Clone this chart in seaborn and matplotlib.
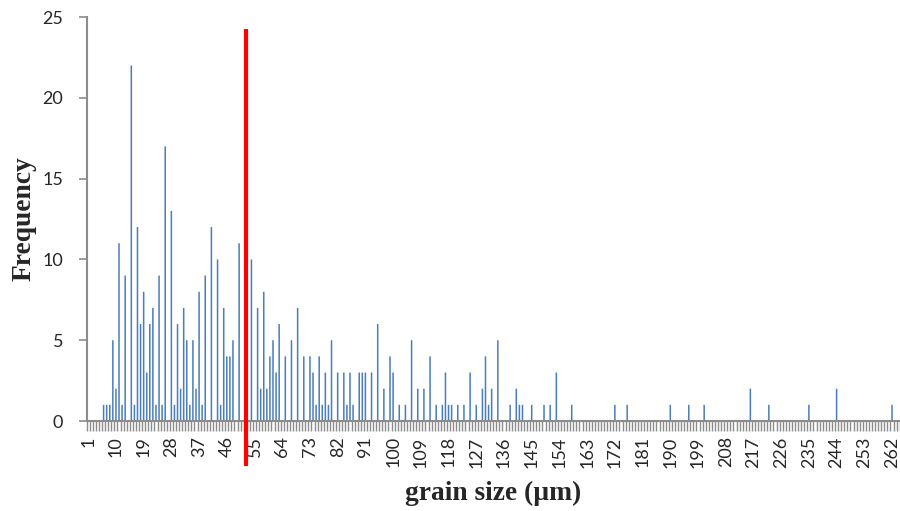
import numpy as np
import pandas as pd
import matplotlib
matplotlib.use('Agg')
import matplotlib.pyplot as plt
import seaborn as sns

# grain size classes (µm) that hold at least one grain
grain_size = [6, 7, 8, 9, 10, 11, 12, 13, 15, 16, 17, 18, 19, 20, 21, 22, 23, 24, 25, 26, 28,
              29, 30, 31, 32, 33, 34, 35, 36, 37, 38, 39, 41, 43, 44, 45, 46, 47, 48, 50, 54,
              56, 57, 58, 59, 60, 61, 62, 63, 65, 67, 69, 71, 73, 74, 75, 76, 77, 78, 79, 80,
              82, 84, 85, 86, 87, 89, 90, 91, 93, 95, 97, 99, 100, 102, 104, 106, 108, 110,
              112, 114, 116, 117, 118, 119, 121, 123, 125, 127, 129, 130, 131, 132, 134, 138,
              140, 141, 142, 145, 149, 151, 153, 158, 172, 176, 190, 196, 201, 216, 222, 235,
              244, 262]
frequency = [1, 1, 1, 5, 2, 11, 1, 9, 22, 1, 12, 6, 8, 3, 6, 7, 1, 9, 1, 17, 13,
             1, 6, 2, 7, 5, 1, 5, 2, 8, 1, 9, 12, 10, 1, 7, 4, 4, 5, 11, 10,
             7, 2, 8, 2, 4, 5, 3, 6, 4, 5, 7, 4, 4, 3, 1, 4, 1, 3, 1, 5,
             3, 3, 1, 3, 1, 3, 3, 3, 3, 6, 2, 4, 3, 1, 1, 5, 2, 2,
             4, 1, 1, 3, 1, 1, 1, 1, 3, 1, 2, 4, 1, 2, 5, 1,
             2, 1, 1, 1, 1, 1, 3, 1, 1, 1, 1, 1, 1, 2, 1, 1,
             2, 1]
n_classes = 264          # classes 1..264 on the category axis
mean_size = 52.2         # red marker line
label_every = 9

df = pd.DataFrame({'size': grain_size, 'freq': frequency})
full = (df.set_index('size')
          .reindex(range(1, n_classes + 1), fill_value=0)
          .rename_axis('size').reset_index())

sns.set_style('white')
plt.rcParams['font.family'] = ['Lato', 'DejaVu Sans']

fig = plt.figure(figsize=(9, 5.11), dpi=100)
ax = fig.add_axes([0.0963, 0.1761, 0.9034, 0.7906])

sns.barplot(data=full, x='size', y='freq', color='#4a7ebb', saturation=1,
            width=0.5, linewidth=0, errorbar=None, ax=ax)
# thin bars: no pixel snapping so they all come out the same width
for p in ax.patches:
    p.set_snap(False)

ax.set_xlim(-0.5, n_classes - 0.5)
ax.set_ylim(0, 25)
ax.set_yticks(range(0, 26, 5))

tick_vals = list(range(1, n_classes, label_every))
ax.set_xticks([v - 1 for v in tick_vals])
ax.set_xticklabels([str(v) for v in tick_vals], rotation=90)
ax.set_xticks(np.arange(-0.5, n_classes, 1), minor=True)

ax.tick_params(axis='x', which='major', length=0, pad=11, labelsize=13)
ax.tick_params(axis='x', which='minor', length=7, width=1, color='#8c8c8c', direction='out')
ax.tick_params(axis='y', which='major', length=6, width=1.2, color='#8c8c8c', pad=11, labelsize=13)
ax.xaxis.set_ticks_position('bottom')
ax.yaxis.set_ticks_position('left')

for s in ['top', 'right']:
    ax.spines[s].set_visible(False)
for s in ['left', 'bottom']:
    ax.spines[s].set_color('#8c8c8c')
    ax.spines[s].set_linewidth(1.5)

# red marker line, reaching down through the tick labels
ax.plot([mean_size - 1, mean_size - 1], [-2.8, 24.26], color='#ff0000',
        linewidth=3, solid_capstyle='butt', clip_on=False, zorder=5)

ax.set_xlabel('grain size (µm)', family='Liberation Serif', fontweight='bold', fontsize=19.8)
ax.set_ylabel('Frequency', family='Liberation Serif', fontweight='bold', fontsize=19.8)
ax.xaxis.set_label_coords(0.5, -0.148)
ax.yaxis.set_label_coords(-0.062, 0.5)

fig.savefig('out.png', dpi=100, facecolor='white')
